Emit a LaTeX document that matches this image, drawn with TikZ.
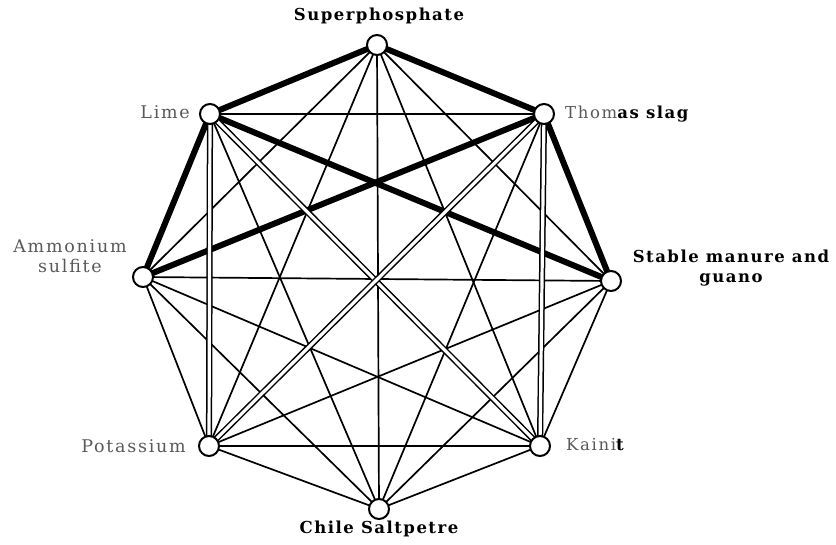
\documentclass[tikz,border=0pt]{standalone}
\usepackage{fontspec}
\setmainfont{DejaVu Serif}
\newfontfamily\boldlblfont[LetterSpace=9]{DejaVu Serif}
\newfontfamily\reglblfont[LetterSpace=10]{DejaVu Serif}
\pgfdeclarelayer{bg}
\pgfsetlayers{bg,main}
\begin{document}
\begin{tikzpicture}[x=1pt,y=-1pt,
  vtx/.style={circle,draw,fill=white,line width=2pt,minimum size=20pt,inner sep=0pt},
  plainedge/.style={line width=1.7pt},
  heavyedge/.style={line width=6pt},
  dbledge/.style={double=white,double distance=3.2pt,line width=1.5pt},
  boldlbl/.style={font=\boldlblfont\fontsize{16.5}{20}\selectfont\bfseries,inner sep=0pt},
  reglbl/.style={font=\reglblfont\fontsize{17.5}{20}\selectfont,text=black!65,inner sep=0pt}]
\useasboundingbox (0,0) rectangle (836,545);
% vertices
\node[vtx] (S) at (377,45) {};
\node[vtx] (T) at (544,114) {};
\node[vtx] (M) at (611,281) {};
\node[vtx] (K) at (540,446) {};
\node[vtx] (C) at (379,509) {};
\node[vtx] (P) at (209,446) {};
\node[vtx] (A) at (143,277) {};
\node[vtx] (L) at (210,114) {};
\begin{pgfonlayer}{bg}
% thin edges
\foreach \a/\b in {S/M,S/K,S/C,S/P,S/A,T/L,T/C,M/K,M/C,M/P,M/A,K/C,K/P,K/A,C/P,C/A,C/L,P/A}
  \draw[plainedge] (\a.center) -- (\b.center);
% heavy edges
\foreach \a/\b in {S/L,S/T,L/A,L/M,T/A,T/M}
  \draw[heavyedge] (\a.center) -- (\b.center);
% double edges
\foreach \a/\b in {L/P,L/K,T/P,T/K}
  \draw[dbledge] (\a.center) -- (\b.center);
\end{pgfonlayer}
% labels
\node[boldlbl,anchor=base] (lS) at (379,21) {Superphosphate};
\node[reglbl,anchor=base east] (lL) at (190,119) {Lime};
\node[boldlbl,anchor=base west] (lT) at (565,119) {{\reglblfont\mdseries\color{black!65}Thom}as slag};
\node[reglbl,anchor=base,align=center] (lA) at (70,273) {Ammonium\\sulfite};
\node[boldlbl,anchor=base,align=center] (lM) at (731,283) {Stable manure and\\guano};
\node[reglbl,anchor=base east] (lP) at (186,453) {Potassium};
\node[boldlbl,anchor=base west] (lK) at (566,450) {{\reglblfont\mdseries\color{black!65}Kaini}t};
\node[boldlbl,anchor=base] (lC) at (379,533) {Chile Saltpetre};
\end{tikzpicture}
\end{document}
